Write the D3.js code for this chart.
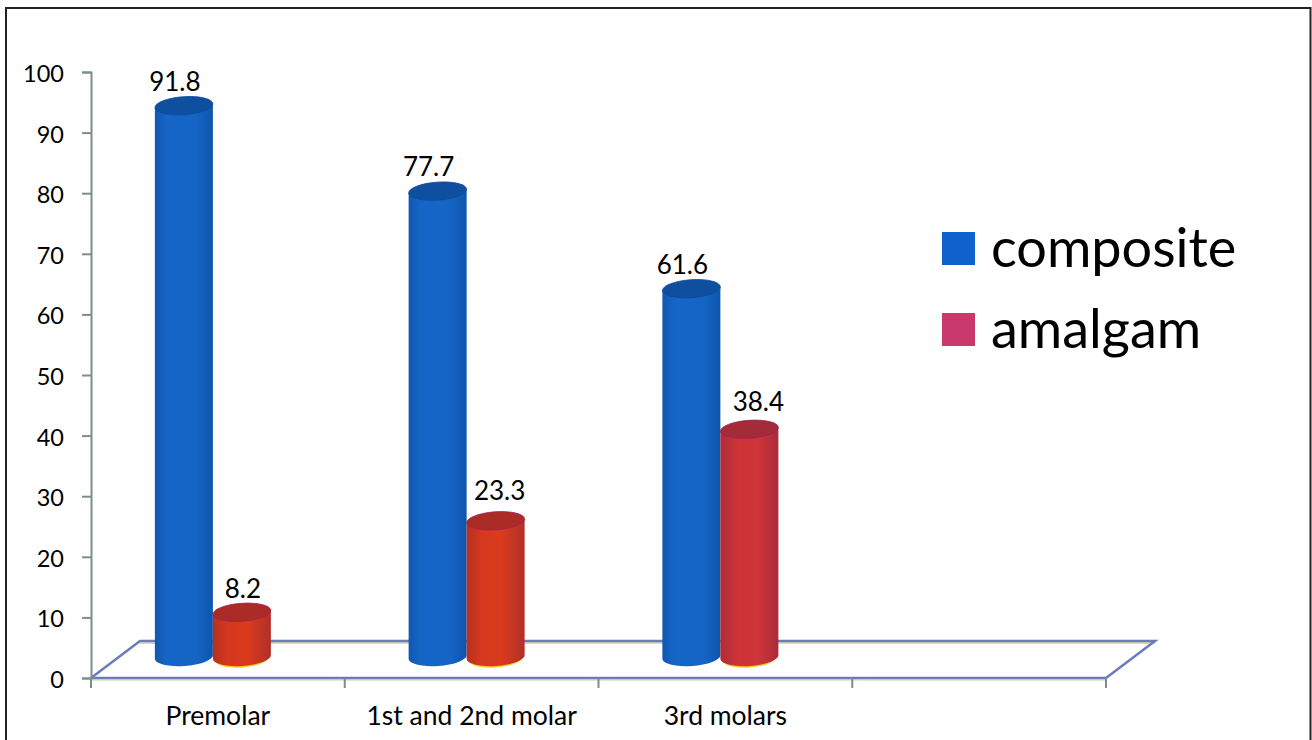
<!DOCTYPE html>
<html>
<head>
<meta charset="utf-8">
<script src="https://cdn.jsdelivr.net/npm/d3@7"></script>
<style>
  html, body { margin: 0; padding: 0; background: #fff; }
  svg { display: block; }
  text { font-family: Lato, "Open Sans", sans-serif; fill: #000; }
</style>
</head>
<body>
<svg id="chart" width="1312" height="740"></svg>
<script>
const categories = ["Premolar", "1st and 2nd molar", "3rd molars", ""];
const seriesNames = ["composite", "amalgam"];
const compositeValues = [91.8, 77.7, 61.6];
const amalgamValues = [8.2, 23.3, 38.4];
const yTicks = [0, 10, 20, 30, 40, 50, 60, 70, 80, 90, 100];

const svg = d3.select("#chart");
const defs = svg.append("defs");

// Cylinder shading: darker at the rims, nearly flat across the middle.
function cylinderGradient(id, stops) {
  const g = defs.append("linearGradient").attr("id", id)
    .attr("x1", 0).attr("x2", 1).attr("y1", 0).attr("y2", 0);
  stops.forEach(([o, c]) => g.append("stop").attr("offset", o).attr("stop-color", c));
}
cylinderGradient("blueBody", [[0, "#1058b0"], [0.2, "#1565c6"], [0.7, "#1565c6"], [1, "#0e55ac"]]);
cylinderGradient("redBody", [[0, "#b8301e"], [0.25, "#d5381e"], [0.6, "#da3b1e"], [1, "#b03028"]]);
cylinderGradient("crimsonBody", [[0, "#b02c38"], [0.3, "#cc3436"], [0.65, "#ce3438"], [1, "#a82c3c"]]);

const frontY = d3.scaleLinear().domain([0, 100]).range([678, 72]);
// Bars stand partway into the floor's depth, so their tops sit above the front scale.
const barTopY = v => frontY(v) - 16;
const barBaseY = 657;
const depth = { dx: 49, dy: -37 };

const x = d3.scaleBand().domain(categories).range([91, 1106]);
const seriesX = d3.scaleBand().domain(seriesNames).range([-63, 53]);
const rx = seriesX.bandwidth() / 2;
const ry = 9;
const tiltDeg = -4;
const tiltRise = rx * Math.sin(-tiltDeg * Math.PI / 180);

// Hand-placed value labels: horizontal and vertical shift from each cylinder top.
const labelShiftX = { composite: [-9, -9, -9], amalgam: [1, 4, 9] };
const labelGap = { composite: [15, 15, 15], amalgam: [14, 21, 18] };

const AXIS_GREY = "#7b8f88";
const FLOOR_BLUE = "#6c7bbc";
const FLOOR_GLOW = "#cfcf9a";

// Page frame
svg.append("path")
  .attr("d", "M6,740V8H1310.5V740")
  .attr("fill", "none").attr("stroke", "#222").attr("stroke-width", 2);

// Floor parallelogram, with the faint olive fringe along its edges
const floorFront = [x.range()[0], frontY(0)];
const floorEnd = [x.range()[1], frontY(0)];
const floorPts = [
  floorFront,
  [floorFront[0] + depth.dx, floorFront[1] + depth.dy],
  [floorEnd[0] + depth.dx, floorEnd[1] + depth.dy],
  floorEnd
];
svg.append("path")
  .attr("d", d3.line()(floorPts.slice(1, 3).map(([a, b]) => [a, b + 2])))
  .attr("fill", "none").attr("stroke", FLOOR_GLOW).attr("stroke-width", 1.5);
svg.append("line")
  .attr("x1", floorFront[0]).attr("x2", floorEnd[0])
  .attr("y1", frontY(0) + 2).attr("y2", frontY(0) + 2)
  .attr("stroke", FLOOR_GLOW).attr("stroke-width", 1.2);
svg.append("path")
  .attr("d", d3.line()(floorPts))
  .attr("fill", "none").attr("stroke", FLOOR_BLUE).attr("stroke-width", 2.5);
svg.append("line")
  .attr("x1", floorFront[0]).attr("x2", floorEnd[0])
  .attr("y1", frontY(0)).attr("y2", frontY(0))
  .attr("stroke", FLOOR_BLUE).attr("stroke-width", 2.5);

// Value axis
const yAxis = svg.append("g").attr("transform", "translate(91,0)")
  .call(d3.axisLeft(frontY).tickValues(yTicks).tickSize(9).tickPadding(18));
yAxis.select(".domain").attr("stroke", AXIS_GREY).attr("stroke-width", 2);
yAxis.selectAll(".tick line").attr("stroke", AXIS_GREY).attr("stroke-width", 2);
yAxis.selectAll("text").attr("font-size", 23.5).attr("dy", "0.4em");

// Category axis: ticks sit on band edges, labels in the band centres
svg.append("g").selectAll("line")
  .data(d3.range(categories.length + 1))
  .join("line")
  .attr("x1", i => x.range()[0] + i * x.step())
  .attr("x2", i => x.range()[0] + i * x.step())
  .attr("y1", frontY(0)).attr("y2", frontY(0) + 10)
  .attr("stroke", AXIS_GREY).attr("stroke-width", 2);
svg.append("g").selectAll("text")
  .data(categories)
  .join("text")
  .attr("x", d => x(d) + x.bandwidth() / 2)
  .attr("y", 725)
  .attr("text-anchor", "middle")
  .attr("font-size", 26.5)
  .text(d => d);

const rows = categories.slice(0, 3).flatMap((c, i) => [
  { category: c, series: "composite", index: i, value: compositeValues[i],
    body: "url(#blueBody)", top: "#0f4f9f", edge: "#0d4a9c" },
  { category: c, series: "amalgam", index: i, value: amalgamValues[i],
    body: i === 2 ? "url(#crimsonBody)" : "url(#redBody)", top: i === 2 ? "#a42c38" : "#ab2c26", edge: "#a02058" }
]);

const bars = svg.append("g").selectAll("g").data(rows).join("g")
  .attr("transform", d => `translate(${x(d.category) + x.bandwidth() / 2 + seriesX(d.series) + rx},0)`);

// Yellow glint under the red cylinders
bars.filter(d => d.series === "amalgam").append("ellipse")
  .attr("rx", rx - 2).attr("ry", ry)
  .attr("transform", `translate(0,${barBaseY + 1.5}) rotate(${tiltDeg})`)
  .attr("fill", "#f2d21e");

bars.append("path")
  .attr("fill", d => d.body)
  .attr("d", d => {
    const t = barTopY(d.value);
    return `M${-rx},${t + tiltRise}L${-rx},${barBaseY + tiltRise}` +
      `A${rx},${ry} ${tiltDeg} 0 0 ${rx},${barBaseY - tiltRise}L${rx},${t - tiltRise}Z`;
  });

bars.append("ellipse")
  .attr("rx", rx).attr("ry", ry)
  .attr("transform", d => `translate(0,${barTopY(d.value)}) rotate(${tiltDeg})`)
  .attr("fill", d => d.top)
  .attr("stroke", d => d.edge).attr("stroke-width", 0.8);

bars.append("text")
  .attr("x", d => labelShiftX[d.series][d.index])
  .attr("y", d => barTopY(d.value) - labelGap[d.series][d.index])
  .attr("text-anchor", "middle")
  .attr("font-size", 26)
  .text(d => d.value);

// Legend
const legendY = d3.scaleBand().domain(seriesNames).range([220, 382]);
const legendFill = d3.scaleOrdinal().domain(seriesNames).range(["#0f62cc", "#c83a6c"]);
const legend = svg.append("g").selectAll("g").data(seriesNames).join("g")
  .attr("transform", d => `translate(942,${legendY(d)})`);
legend.append("rect")
  .attr("y", 12).attr("width", 33).attr("height", 33)
  .attr("fill", d => legendFill(d));
legend.append("text")
  .attr("x", 49).attr("y", 47)
  .attr("font-size", 54)
  .text(d => d);
</script>
</body>
</html>
